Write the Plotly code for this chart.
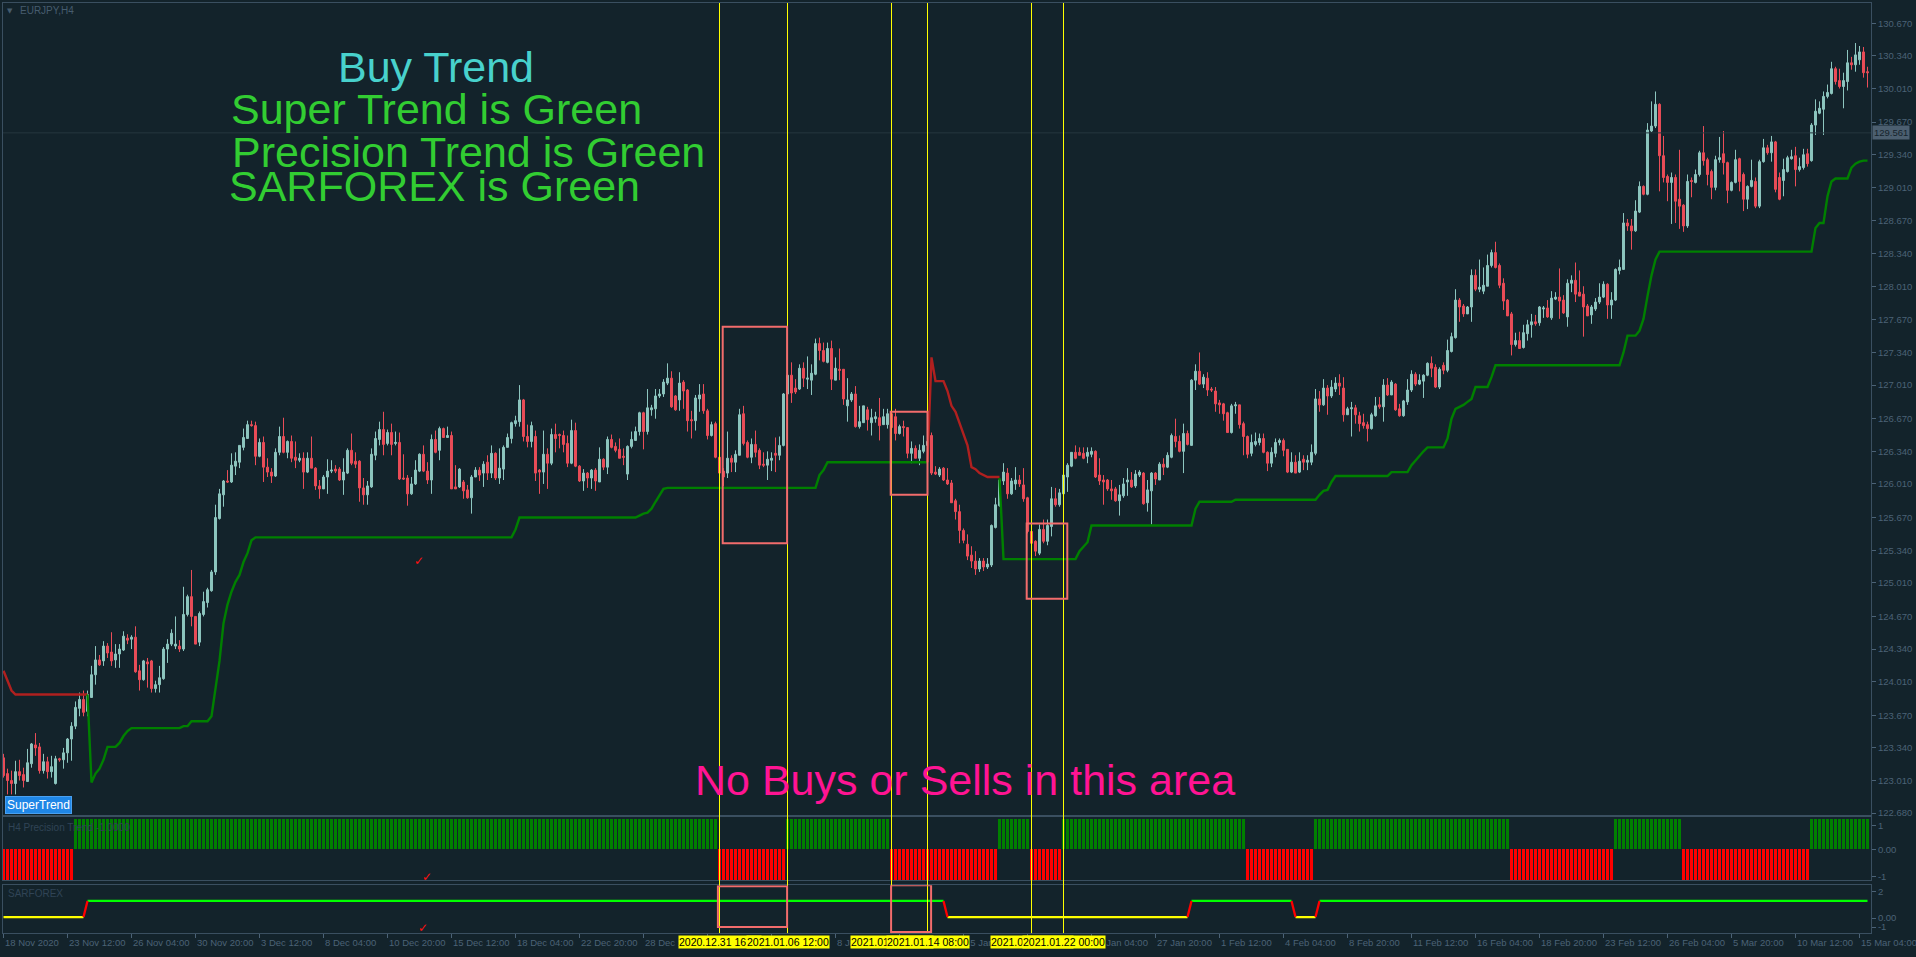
import plotly.graph_objects as go

# ---------------------------------------------------------------- data
opens = [
    123.24, 123.08, 123.01, 122.98, 123.10, 123.07, 123.00, 123.18, 123.37, 123.35,
    123.11, 123.20, 123.10, 122.98, 123.23, 123.22, 123.29, 123.43, 123.56, 123.74,
    123.83, 123.71, 123.85, 124.08, 124.23, 124.22, 124.37, 124.31, 124.23, 124.29,
    124.33, 124.45, 124.44, 124.46, 124.12, 124.03, 124.21, 124.22, 123.94, 123.98,
    124.04, 124.34, 124.39, 124.37, 124.37, 124.34, 124.69, 124.87, 124.67, 124.41,
    124.69, 124.81, 124.93, 125.12, 125.66, 125.90, 126.04, 126.03, 126.19, 126.23,
    126.38, 126.47, 126.61, 126.60, 126.29, 126.43, 126.18, 126.13, 126.09, 126.33,
    126.49, 126.33, 126.44, 126.28, 126.25, 126.27, 126.13, 126.27, 126.17, 125.99,
    125.96, 126.08, 126.14, 126.16, 126.16, 126.05, 126.12, 126.35, 126.24, 126.24,
    125.97, 125.90, 125.98, 126.30, 126.46, 126.56, 126.42, 126.53, 126.42, 126.43,
    126.07, 126.07, 125.91, 126.01, 126.14, 126.31, 126.14, 126.05, 126.46, 126.35,
    126.57, 126.48, 126.50, 125.98, 125.98, 126.03, 125.95, 125.87, 126.08, 126.15,
    126.12, 126.23, 126.12, 126.32, 126.07, 126.16, 126.38, 126.47, 126.62, 126.64,
    126.86, 126.49, 126.44, 126.49, 126.15, 126.13, 126.31, 126.22, 126.51, 126.51,
    126.50, 126.42, 126.22, 126.55, 126.19, 126.04, 126.12, 126.07, 126.15, 126.03,
    126.26, 126.18, 126.46, 126.39, 126.36, 126.29, 126.11, 126.39, 126.45, 126.54,
    126.73, 126.54, 126.76, 126.77, 126.90, 126.92, 127.03, 127.08, 126.90, 126.86,
    127.04, 126.96, 126.66, 126.65, 126.87, 126.92, 126.75, 126.50, 126.62, 126.28,
    126.14, 126.12, 126.27, 126.23, 126.30, 126.72, 126.43, 126.28, 126.41, 126.35,
    126.21, 126.20, 126.25, 126.32, 126.30, 126.40, 126.92, 127.11, 126.98, 126.97,
    127.18, 127.07, 127.06, 127.12, 127.43, 127.36, 127.24, 127.38, 127.06, 127.17,
    127.17, 126.80, 126.86, 126.92, 126.59, 126.63, 126.76, 126.63, 126.67, 126.68,
    126.61, 126.61, 126.72, 126.69, 126.52, 126.59, 126.58, 126.32, 126.37, 126.27,
    126.34, 126.40, 126.50, 126.13, 126.10, 126.17, 126.05, 126.02, 125.84, 125.73,
    125.54, 125.40, 125.29, 125.23, 125.15, 125.23, 125.17, 125.19, 125.57, 125.79,
    126.04, 126.12, 125.91, 126.01, 126.05, 126.00, 125.87, 125.53, 125.43, 125.31,
    125.55, 125.43, 125.58, 125.86, 125.80, 125.91, 126.08, 126.19, 126.33, 126.33,
    126.32, 126.29, 126.31, 126.34, 126.10, 126.05, 126.05, 125.96, 125.96, 125.84,
    125.89, 126.03, 126.05, 125.99, 126.10, 126.12, 125.82, 125.94, 126.12, 126.05,
    126.21, 126.18, 126.28, 126.49, 126.44, 126.34, 126.52, 126.40, 127.06, 127.15,
    127.02, 127.08, 126.97, 126.95, 126.83, 126.82, 126.73, 126.53, 126.80, 126.81,
    126.62, 126.49, 126.32, 126.41, 126.43, 126.47, 126.33, 126.22, 126.32, 126.43,
    126.45, 126.36, 126.13, 126.23, 126.13, 126.26, 126.23, 126.23, 126.32, 126.87,
    126.81, 126.98, 126.90, 126.97, 127.03, 126.98, 126.71, 126.77, 126.78, 126.70,
    126.63, 126.61, 126.57, 126.70, 126.81, 126.79, 127.01, 126.91, 127.02, 126.77,
    126.70, 126.84, 126.96, 127.12, 127.02, 127.05, 127.11, 127.23, 127.19, 126.99,
    127.21, 127.16, 127.35, 127.49, 127.87, 127.81, 127.73, 127.80, 128.12, 127.98,
    127.96, 128.01, 128.22, 128.35, 128.22, 128.04, 127.87, 127.73, 127.42, 127.46,
    127.39, 127.53, 127.62, 127.65, 127.64, 127.78, 127.79, 127.69, 127.88, 127.90,
    127.87, 127.70, 128.04, 128.07, 127.95, 127.93, 127.81, 127.72, 127.78, 127.85,
    127.90, 128.03, 127.82, 127.87, 128.17, 128.18, 128.65, 128.62, 128.57, 128.76,
    129.02, 128.94, 129.58, 129.63, 129.85, 129.33, 129.12, 129.06, 129.11, 128.89,
    128.83, 128.62, 129.08, 129.06, 129.14, 129.36, 129.29, 129.17, 129.01, 129.29,
    129.35, 129.26, 128.98, 129.06, 129.30, 129.14, 128.89, 129.02, 129.07, 128.82,
    129.27, 129.41, 129.36, 129.47, 129.11, 129.08, 129.17, 129.30, 129.33, 129.19,
    129.21, 129.35, 129.28, 129.64, 129.76, 129.80, 129.93, 129.96, 130.21, 130.09,
    130.03, 130.08, 130.27, 130.25, 130.30, 130.38, 130.18,
]
highs = [
    123.28, 123.13, 123.11, 123.21, 123.22, 123.14, 123.33, 123.39, 123.49, 123.39,
    123.28, 123.25, 123.26, 123.26, 123.24, 123.34, 123.44, 123.60, 123.81, 123.90,
    123.92, 123.92, 124.17, 124.37, 124.28, 124.42, 124.40, 124.51, 124.39, 124.39,
    124.52, 124.49, 124.48, 124.57, 124.18, 124.23, 124.25, 124.23, 124.02, 124.17,
    124.36, 124.44, 124.54, 124.67, 124.43, 124.97, 124.89, 125.14, 124.67, 124.72,
    124.92, 124.96, 125.14, 125.80, 125.96, 126.05, 126.15, 126.32, 126.33, 126.40,
    126.57, 126.65, 126.65, 126.64, 126.47, 126.49, 126.27, 126.17, 126.37, 126.59,
    126.68, 126.45, 126.50, 126.44, 126.32, 126.33, 126.33, 126.49, 126.18, 126.05,
    126.10, 126.26, 126.25, 126.20, 126.18, 126.27, 126.37, 126.52, 126.33, 126.25,
    126.07, 126.04, 126.37, 126.54, 126.64, 126.74, 126.56, 126.62, 126.54, 126.53,
    126.31, 126.10, 126.08, 126.25, 126.32, 126.40, 126.23, 126.51, 126.55, 126.59,
    126.58, 126.59, 126.54, 126.20, 126.17, 126.05, 126.00, 126.10, 126.18, 126.18,
    126.24, 126.30, 126.40, 126.33, 126.37, 126.40, 126.52, 126.64, 126.70, 127.01,
    126.87, 126.61, 126.64, 126.55, 126.16, 126.55, 126.37, 126.57, 126.62, 126.52,
    126.55, 126.50, 126.66, 126.63, 126.20, 126.16, 126.13, 126.16, 126.17, 126.38,
    126.27, 126.49, 126.51, 126.43, 126.47, 126.37, 126.40, 126.54, 126.59, 126.74,
    126.74, 126.97, 126.81, 126.97, 126.97, 127.07, 127.23, 127.15, 126.91, 127.14,
    127.06, 126.97, 126.75, 126.91, 127.02, 127.02, 126.77, 126.64, 126.64, 126.30,
    126.17, 126.54, 126.30, 126.35, 126.77, 126.80, 126.45, 126.47, 126.55, 126.37,
    126.33, 126.34, 126.33, 126.48, 126.49, 126.93, 127.20, 127.24, 127.07, 127.22,
    127.24, 127.30, 127.22, 127.48, 127.49, 127.44, 127.44, 127.46, 127.29, 127.38,
    127.17, 127.08, 126.94, 127.00, 126.80, 126.80, 126.79, 126.77, 126.74, 126.88,
    126.77, 126.77, 126.75, 126.77, 126.61, 126.65, 126.58, 126.44, 126.40, 126.41,
    126.50, 126.52, 126.53, 126.19, 126.18, 126.18, 126.17, 126.05, 125.86, 125.80,
    125.56, 125.50, 125.38, 125.33, 125.26, 125.26, 125.26, 125.60, 125.87, 126.07,
    126.22, 126.17, 126.07, 126.18, 126.10, 126.17, 125.88, 125.65, 125.44, 125.60,
    125.65, 125.65, 125.98, 125.97, 125.96, 126.14, 126.22, 126.33, 126.40, 126.38,
    126.38, 126.38, 126.38, 126.35, 126.27, 126.10, 126.06, 126.05, 125.98, 126.00,
    126.07, 126.17, 126.13, 126.15, 126.15, 126.13, 126.05, 126.13, 126.13, 126.23,
    126.27, 126.33, 126.52, 126.67, 126.50, 126.62, 126.55, 127.07, 127.22, 127.34,
    127.12, 127.14, 126.99, 126.99, 126.86, 126.83, 126.74, 126.82, 126.84, 126.81,
    126.64, 126.50, 126.51, 126.53, 126.52, 126.52, 126.34, 126.38, 126.47, 126.47,
    126.47, 126.36, 126.33, 126.30, 126.33, 126.30, 126.30, 126.41, 126.97, 126.95,
    127.07, 127.01, 127.06, 127.09, 127.12, 127.09, 126.79, 126.84, 126.81, 126.74,
    126.72, 126.64, 126.73, 126.89, 126.89, 127.07, 127.08, 127.06, 127.03, 126.82,
    126.86, 127.07, 127.16, 127.14, 127.12, 127.12, 127.24, 127.30, 127.22, 127.19,
    127.24, 127.47, 127.54, 127.98, 127.89, 127.83, 127.81, 128.18, 128.18, 128.28,
    128.20, 128.33, 128.38, 128.46, 128.24, 128.09, 127.88, 127.75, 127.54, 127.55,
    127.62, 127.67, 127.73, 127.72, 127.81, 127.81, 127.87, 127.96, 127.95, 128.19,
    127.92, 128.08, 128.12, 128.25, 128.17, 128.01, 127.83, 127.82, 127.89, 128.04,
    128.06, 128.04, 127.95, 128.19, 128.28, 128.75, 128.69, 128.69, 128.88, 129.07,
    129.03, 129.66, 129.88, 129.98, 129.86, 129.53, 129.14, 129.16, 129.14, 129.39,
    128.84, 129.14, 129.11, 129.19, 129.38, 129.63, 129.31, 129.19, 129.33, 129.52,
    129.58, 129.27, 129.07, 129.39, 129.31, 129.16, 129.03, 129.29, 129.11, 129.29,
    129.50, 129.44, 129.53, 129.48, 129.16, 129.30, 129.33, 129.39, 129.42, 129.31,
    129.40, 129.40, 129.66, 129.90, 129.88, 129.98, 130.05, 130.28, 130.23, 130.21,
    130.17, 130.40, 130.33, 130.47, 130.44, 130.43, 130.23,
]
lows = [
    123.04, 122.87, 122.87, 122.87, 123.01, 122.94, 123.00, 123.14, 123.26, 123.08,
    123.08, 123.03, 123.04, 122.97, 123.20, 123.13, 123.19, 123.21, 123.53, 123.66,
    123.66, 123.66, 123.85, 123.98, 124.17, 124.17, 124.25, 124.17, 124.15, 124.15,
    124.32, 124.39, 124.34, 124.10, 123.92, 124.02, 123.95, 123.90, 123.90, 123.90,
    124.03, 124.20, 124.37, 124.34, 124.31, 124.32, 124.67, 124.57, 124.39, 124.37,
    124.67, 124.76, 124.92, 125.09, 125.65, 125.78, 126.02, 126.02, 126.10, 126.17,
    126.35, 126.47, 126.59, 126.20, 126.28, 126.03, 126.08, 126.02, 126.08, 126.30,
    126.32, 126.27, 126.23, 126.17, 126.23, 125.96, 126.12, 126.17, 125.95, 125.86,
    125.96, 125.91, 126.12, 126.12, 126.04, 125.90, 126.11, 126.20, 126.17, 125.83,
    125.80, 125.80, 125.97, 126.25, 126.40, 126.30, 126.40, 126.30, 126.40, 126.05,
    126.05, 125.79, 125.90, 126.00, 126.13, 126.13, 126.01, 125.91, 126.32, 126.25,
    126.48, 126.48, 125.96, 125.96, 125.97, 125.86, 125.86, 125.71, 126.08, 126.04,
    125.98, 126.05, 126.07, 126.05, 126.01, 126.05, 126.38, 126.42, 126.59, 126.59,
    126.44, 126.38, 126.38, 126.04, 125.91, 126.01, 125.96, 126.20, 126.33, 126.37,
    126.33, 126.18, 126.21, 126.18, 126.03, 125.94, 125.97, 125.96, 125.94, 126.03,
    126.15, 126.11, 126.37, 126.33, 126.27, 126.20, 126.05, 126.37, 126.45, 126.50,
    126.36, 126.51, 126.70, 126.67, 126.88, 126.89, 127.01, 126.78, 126.75, 126.75,
    126.77, 126.54, 126.47, 126.55, 126.74, 126.72, 126.46, 126.49, 126.27, 126.08,
    125.99, 126.07, 126.13, 126.13, 126.30, 126.40, 126.27, 126.22, 126.28, 126.16,
    126.18, 126.05, 126.14, 126.13, 126.25, 126.39, 126.88, 126.83, 126.92, 126.96,
    126.99, 126.97, 126.91, 127.11, 127.26, 127.24, 127.23, 126.96, 127.06, 127.06,
    126.81, 126.64, 126.84, 126.58, 126.57, 126.63, 126.55, 126.50, 126.63, 126.45,
    126.61, 126.57, 126.55, 126.45, 126.51, 126.49, 126.27, 126.22, 126.27, 126.20,
    126.32, 126.36, 126.10, 126.10, 126.08, 126.04, 126.00, 125.82, 125.65, 125.41,
    125.41, 125.24, 125.16, 125.09, 125.12, 125.13, 125.15, 125.17, 125.56, 125.78,
    126.00, 125.86, 125.90, 125.95, 125.98, 125.83, 125.51, 125.38, 125.28, 125.29,
    125.41, 125.39, 125.48, 125.78, 125.78, 125.88, 125.93, 126.18, 126.26, 126.30,
    126.26, 126.22, 126.28, 126.07, 126.00, 125.80, 125.94, 125.85, 125.83, 125.69,
    125.87, 125.89, 125.97, 125.97, 126.08, 125.80, 125.73, 125.60, 126.00, 126.05,
    126.10, 126.17, 126.27, 126.38, 126.33, 126.12, 126.40, 126.40, 126.96, 127.01,
    126.98, 126.90, 126.94, 126.74, 126.72, 126.65, 126.53, 126.52, 126.72, 126.57,
    126.30, 126.27, 126.29, 126.39, 126.40, 126.32, 126.14, 126.18, 126.28, 126.40,
    126.29, 126.12, 126.12, 126.12, 126.12, 126.15, 126.15, 126.20, 126.30, 126.74,
    126.80, 126.71, 126.88, 126.94, 126.91, 126.64, 126.71, 126.49, 126.62, 126.54,
    126.57, 126.44, 126.56, 126.69, 126.77, 126.64, 126.90, 126.91, 126.75, 126.69,
    126.69, 126.81, 126.94, 127.00, 127.01, 126.88, 127.10, 127.09, 126.98, 126.97,
    127.12, 127.14, 127.34, 127.48, 127.65, 127.70, 127.73, 127.65, 127.96, 127.95,
    127.93, 128.01, 128.20, 128.19, 127.99, 127.77, 127.71, 127.31, 127.40, 127.38,
    127.38, 127.46, 127.49, 127.61, 127.61, 127.69, 127.69, 127.67, 127.87, 127.68,
    127.73, 127.60, 127.95, 127.85, 127.91, 127.50, 127.71, 127.63, 127.76, 127.83,
    127.89, 127.68, 127.68, 127.86, 128.13, 128.18, 128.57, 128.38, 128.56, 128.75,
    128.93, 128.93, 129.57, 129.61, 128.97, 129.06, 128.87, 128.64, 128.65, 128.59,
    128.56, 128.60, 128.91, 129.05, 129.12, 129.23, 129.03, 128.89, 128.98, 129.26,
    129.14, 128.85, 128.97, 129.05, 128.97, 128.77, 128.79, 129.01, 128.80, 128.80,
    129.26, 129.34, 129.27, 128.96, 128.88, 128.92, 129.16, 129.29, 129.02, 129.17,
    129.19, 129.22, 129.27, 129.54, 129.75, 129.54, 129.91, 129.95, 130.05, 130.01,
    129.81, 129.99, 130.20, 130.18, 130.25, 130.12, 130.02,
]
closes = [
    123.06, 123.01, 122.98, 123.10, 123.06, 123.01, 123.19, 123.38, 123.34, 123.11,
    123.20, 123.10, 123.15, 123.23, 123.22, 123.29, 123.43, 123.56, 123.75, 123.83,
    123.70, 123.88, 124.08, 124.23, 124.18, 124.37, 124.30, 124.22, 124.29, 124.34,
    124.47, 124.43, 124.46, 124.11, 124.03, 124.22, 124.19, 123.94, 123.98, 124.05,
    124.34, 124.39, 124.50, 124.39, 124.34, 124.69, 124.87, 124.67, 124.39, 124.70,
    124.82, 124.94, 125.12, 125.67, 125.91, 126.04, 126.03, 126.20, 126.24, 126.40,
    126.48, 126.61, 126.60, 126.29, 126.43, 126.18, 126.13, 126.09, 126.33, 126.49,
    126.33, 126.44, 126.27, 126.25, 126.27, 126.13, 126.27, 126.17, 125.99, 125.96,
    126.08, 126.14, 126.15, 126.14, 126.05, 126.13, 126.35, 126.22, 126.21, 125.97,
    125.90, 125.99, 126.31, 126.47, 126.56, 126.41, 126.53, 126.41, 126.43, 126.06,
    126.06, 125.91, 126.01, 126.15, 126.31, 126.14, 126.05, 126.46, 126.33, 126.57,
    126.48, 126.50, 125.96, 125.96, 126.16, 125.94, 125.87, 126.08, 126.15, 126.10,
    126.21, 126.12, 126.32, 126.07, 126.17, 126.38, 126.48, 126.63, 126.65, 126.86,
    126.49, 126.44, 126.60, 126.12, 126.13, 126.31, 126.22, 126.51, 126.47, 126.50,
    126.41, 126.22, 126.55, 126.19, 126.04, 126.12, 126.07, 126.15, 126.04, 126.26,
    126.18, 126.46, 126.38, 126.35, 126.27, 126.28, 126.39, 126.46, 126.54, 126.73,
    126.54, 126.78, 126.78, 126.90, 126.92, 127.04, 127.08, 126.79, 126.76, 127.03,
    126.95, 126.65, 126.65, 126.88, 126.91, 126.75, 126.50, 126.61, 126.28, 126.12,
    126.08, 126.27, 126.23, 126.31, 126.71, 126.42, 126.28, 126.41, 126.33, 126.20,
    126.20, 126.26, 126.27, 126.30, 126.40, 126.92, 127.11, 126.93, 126.94, 127.18,
    127.08, 127.08, 127.13, 127.43, 127.36, 127.25, 127.38, 127.07, 127.18, 127.16,
    126.87, 126.86, 126.92, 126.59, 126.64, 126.80, 126.66, 126.68, 126.69, 126.60,
    126.69, 126.72, 126.58, 126.52, 126.59, 126.58, 126.32, 126.37, 126.27, 126.35,
    126.40, 126.44, 126.12, 126.11, 126.16, 126.05, 126.01, 125.82, 125.73, 125.54,
    125.44, 125.28, 125.23, 125.15, 125.23, 125.17, 125.20, 125.59, 125.80, 126.05,
    126.13, 125.91, 126.04, 126.05, 126.01, 125.86, 125.53, 125.41, 125.33, 125.55,
    125.43, 125.59, 125.86, 125.80, 125.92, 126.10, 126.20, 126.33, 126.27, 126.30,
    126.27, 126.33, 126.34, 126.08, 126.04, 126.03, 125.96, 125.94, 125.84, 125.90,
    126.01, 126.05, 125.98, 126.11, 126.13, 125.81, 125.95, 126.12, 126.06, 126.21,
    126.18, 126.30, 126.50, 126.44, 126.34, 126.52, 126.41, 127.06, 127.15, 127.02,
    127.09, 126.96, 126.96, 126.82, 126.81, 126.72, 126.53, 126.80, 126.81, 126.61,
    126.49, 126.31, 126.43, 126.44, 126.47, 126.33, 126.22, 126.33, 126.43, 126.45,
    126.35, 126.13, 126.23, 126.12, 126.24, 126.23, 126.25, 126.33, 126.87, 126.81,
    126.98, 126.90, 126.99, 127.03, 127.00, 126.71, 126.77, 126.78, 126.71, 126.62,
    126.60, 126.57, 126.71, 126.80, 126.79, 127.01, 126.91, 127.04, 126.76, 126.70,
    126.85, 126.96, 127.12, 127.02, 127.06, 127.11, 127.23, 127.18, 126.99, 127.17,
    127.16, 127.36, 127.50, 127.87, 127.80, 127.73, 127.80, 128.12, 127.98, 128.00,
    128.02, 128.22, 128.35, 128.20, 128.02, 127.86, 127.71, 127.42, 127.46, 127.38,
    127.54, 127.62, 127.65, 127.63, 127.80, 127.79, 127.70, 127.89, 127.90, 127.86,
    127.74, 128.04, 128.07, 127.93, 127.91, 127.80, 127.71, 127.80, 127.85, 127.90,
    128.03, 127.82, 127.87, 128.18, 128.20, 128.65, 128.62, 128.57, 128.77, 129.02,
    128.94, 129.59, 129.63, 129.85, 129.33, 129.11, 129.06, 129.11, 128.87, 128.82,
    128.62, 129.07, 129.07, 129.14, 129.36, 129.28, 129.14, 129.01, 129.29, 129.31,
    129.26, 128.98, 129.06, 129.29, 129.07, 128.89, 129.02, 129.08, 128.82, 129.27,
    129.41, 129.36, 129.47, 128.99, 128.89, 129.19, 129.31, 129.32, 129.19, 129.22,
    129.34, 129.25, 129.64, 129.78, 129.81, 129.93, 129.97, 130.21, 130.08, 130.03,
    130.09, 130.27, 130.25, 130.35, 130.38, 130.17, 130.17,
]

price_tick_labels = [
    "130.670", "130.340", "130.010", "129.670", "129.340", "129.010", "128.670",
    "128.340", "128.010", "127.670", "127.340", "127.010", "126.670", "126.340",
    "126.010", "125.670", "125.340", "125.010", "124.670", "124.340", "124.010",
    "123.670", "123.340", "123.010", "122.680",
]
date_tick_labels = [
    "18 Nov 2020", "23 Nov 12:00", "26 Nov 04:00", "30 Nov 20:00", "3 Dec 12:00",
    "8 Dec 04:00", "10 Dec 20:00", "15 Dec 12:00", "18 Dec 04:00", "22 Dec 20:00",
    "28 Dec 12:00", "31 Dec 04:00", "5 Jan 20:00", "8 Jan 12:00", "13 Jan 04:00",
    "15 Jan 20:00", "20 Jan 12:00", "25 Jan 04:00", "27 Jan 20:00", "1 Feb 12:00",
    "4 Feb 04:00", "8 Feb 20:00", "11 Feb 12:00", "16 Feb 04:00", "18 Feb 20:00",
    "23 Feb 12:00", "26 Feb 04:00", "5 Mar 20:00", "10 Mar 12:00", "15 Mar 04:00",
]
bars_per_date_label = 16

# SuperTrend: (first bar, last bar, [(bar where value changes, value), ...])
st_red_1 = (0, 21, [(0, 124.12), (1, 124.02), (2, 123.92), (3, 123.88)])
st_green_1 = (21, 231, [
    (21, 123.88), (22, 122.99), (23, 123.08), (24, 123.13), (25, 123.22), (26, 123.35),
    (29, 123.39), (30, 123.46), (31, 123.51), (32, 123.54), (45, 123.56), (47, 123.61),
    (52, 123.66), (53, 123.92), (54, 124.22), (55, 124.60), (56, 124.79), (57, 124.92),
    (58, 125.02), (59, 125.09), (60, 125.22), (61, 125.31), (62, 125.44), (63, 125.47),
    (128, 125.55), (129, 125.67), (159, 125.69), (160, 125.71), (161, 125.72),
    (162, 125.76), (163, 125.83), (164, 125.90), (165, 125.96), (166, 125.97),
    (204, 126.10), (205, 126.15), (206, 126.23)])
st_red_2 = (231, 249, [
    (231, 126.23), (232, 127.29), (233, 127.05), (236, 126.95), (237, 126.80),
    (238, 126.74), (239, 126.62), (240, 126.52), (241, 126.40), (242, 126.18),
    (243, 126.16), (244, 126.12), (245, 126.10), (246, 126.08)])
st_green_2 = (249, 466, [
    (249, 126.07), (250, 125.25), (269, 125.33), (270, 125.38), (271, 125.42),
    (272, 125.59), (298, 125.76), (299, 125.83), (308, 125.85), (329, 125.90),
    (330, 125.94), (331, 125.95), (332, 126.03), (333, 126.09), (347, 126.13),
    (352, 126.20), (353, 126.25), (354, 126.30), (355, 126.34), (356, 126.38),
    (361, 126.47), (362, 126.67), (363, 126.77), (364, 126.79), (365, 126.81),
    (366, 126.84), (367, 126.87), (368, 126.99), (372, 127.09), (373, 127.21),
    (405, 127.34), (406, 127.51), (409, 127.56), (410, 127.68), (411, 127.91),
    (412, 128.12), (413, 128.28), (414, 128.36), (453, 128.60), (454, 128.65),
    (456, 128.92), (457, 129.07), (458, 129.10), (462, 129.21), (463, 129.25),
    (464, 129.27), (465, 129.28)])

# Precision Trend histogram: (first bar, last bar, value)
precision_runs = [
    (0, 17, -1), (18, 178, 1), (179, 195, -1), (196, 221, 1), (222, 248, -1),
    (249, 256, 1), (257, 264, -1), (265, 310, 1), (311, 327, -1), (328, 376, 1),
    (377, 402, -1), (403, 419, 1), (420, 451, -1), (452, 466, 1),
]
# SARFOREX: (first bar, last bar, colour, level)
sarforex_levels = {"up": 1.15, "down": 0.07}
sarforex_runs = [
    (0, 20, "yellow", "down"), (21, 21, "red", "up"), (22, 235, "green", "up"),
    (236, 236, "red", "down"), (237, 296, "yellow", "down"), (297, 297, "red", "up"),
    (298, 322, "green", "up"), (323, 323, "red", "down"), (324, 328, "yellow", "down"),
    (329, 329, "red", "up"), (330, 466, "green", "up"),
]

# vertical lines (bar index) and their time labels
vline_bars = [179, 196, 222, 231, 257, 265]
vline_labels = ["2020.12.31 16:00", "2021.01.06 12:00", "2021.01.12 20:00",
                "2021.01.14 08:00", "2021.01.20 16:00", "2021.01.22 00:00"]
# rectangles on the price chart: (bar0, bar1, price0, price1)
price_boxes = [(179.8, 195.9, 125.41, 127.60), (221.8, 231.0, 125.90, 126.74),
               (255.8, 265.95, 124.85, 125.61)]
# rectangles on the SARFOREX window: (bar0, bar1, value0, value1)
sar_boxes = [(178.6, 195.9, -0.6, 2.13), (221.9, 231.9, -0.93, 2.2)]
hline_price = 129.561

# ---------------------------------------------------------------- layout helpers
W, H = 1916, 957
BG = "#13232b"
FRAME = "#3a4f60"
TXT = "#4b6276"
BULL = "#8dc6bf"
BEAR = "#ea4d58"
FONT = "Liberation Sans"


def fx(px):
    return px / W


def fy(py):
    return 1 - py / H


PLOT_L, PLOT_R = 3, 1871
MAIN_T, MAIN_B = 3, 818
PREC_T, PREC_B = 820, 883
SAR_T, SAR_B = 888, 936

n_bars = len(closes)
bars = list(range(n_bars))
x_range = [-0.125, n_bars - 0.125]

fig = go.Figure()

# candles
fig.add_trace(go.Candlestick(
    x=bars, open=opens, high=highs, low=lows, close=closes,
    increasing=dict(line=dict(color=BULL, width=1), fillcolor=BULL),
    decreasing=dict(line=dict(color=BEAR, width=1), fillcolor=BEAR),
    whiskerwidth=0, xaxis="x", yaxis="y", hoverinfo="skip", showlegend=False))


def expand_steps(seg):
    first, last, steps = seg
    xs, ys = [], []
    j = 0
    cur = steps[0][1]
    for b in range(first, last + 1):
        while j < len(steps) and steps[j][0] <= b:
            cur = steps[j][1]
            j += 1
        xs.append(b)
        ys.append(cur)
    return xs, ys


for seg, col in [(st_red_1, "#b0201f"), (st_green_1, "#008000"),
                 (st_red_2, "#b0201f"), (st_green_2, "#008000")]:
    xs, ys = expand_steps(seg)
    fig.add_trace(go.Scatter(x=xs, y=ys, mode="lines", line=dict(color=col, width=2.4),
                             xaxis="x", yaxis="y", hoverinfo="skip", showlegend=False))

# precision trend histogram
p_x, p_y, p_c = [], [], []
for first, last, val in precision_runs:
    for b in range(first, last + 1):
        p_x.append(b)
        p_y.append(val)
        p_c.append("#008000" if val > 0 else "#ff0000")
fig.add_trace(go.Bar(x=p_x, y=p_y, marker=dict(color=p_c, line=dict(width=0)), width=0.6,
                     xaxis="x2", yaxis="y2", hoverinfo="skip", showlegend=False))

# SARFOREX line
sar_val = [0.0] * n_bars
for first, last, col, lvl in sarforex_runs:
    for b in range(first, last + 1):
        sar_val[b] = sarforex_levels[lvl]
colour_map = {"yellow": "#ffff00", "green": "#00ff00", "red": "#ff0000"}
seg_pts = {"yellow": ([], []), "green": ([], []), "red": ([], [])}
for first, last, col, lvl in sarforex_runs:
    start = first - 1 if first > 0 else first
    xs, ys = seg_pts[col]
    for b in range(start, last + 1):
        xs.append(b)
        ys.append(sar_val[b])
    xs.append(None)
    ys.append(None)
for col in ["yellow", "green", "red"]:
    xs, ys = seg_pts[col]
    fig.add_trace(go.Scatter(x=xs, y=ys, mode="lines", connectgaps=False,
                             line=dict(color=colour_map[col], width=2.3),
                             xaxis="x3", yaxis="y3", hoverinfo="skip", showlegend=False))

axis_common = dict(showgrid=False, zeroline=False, showline=True, mirror=True,
                   linecolor=FRAME, linewidth=1, fixedrange=True)
tick_font = dict(family=FONT, size=9.5, color=TXT)

fig.update_layout(
    width=W, height=H, autosize=False,
    margin=dict(l=0, r=0, t=0, b=0),
    paper_bgcolor=BG, plot_bgcolor=BG,
    hovermode=False, showlegend=False, bargap=0,
    xaxis=dict(domain=[fx(PLOT_L), fx(PLOT_R)], range=x_range, anchor="y",
               showticklabels=False, ticks="", rangeslider=dict(visible=False), **axis_common),
    yaxis=dict(domain=[fy(MAIN_B), fy(MAIN_T)], range=[122.657, 130.875], side="right",
               anchor="x", tickvals=[float(v) for v in price_tick_labels],
               ticktext=price_tick_labels, ticks="outside", ticklen=4, tickcolor=TXT,
               tickfont=tick_font, **axis_common),
    xaxis2=dict(domain=[fx(PLOT_L), fx(PLOT_R)], range=x_range, anchor="y2",
                showticklabels=False, ticks="", **axis_common),
    yaxis2=dict(domain=[fy(PREC_B), fy(PREC_T)], range=[-1.0, 1.05], side="right",
                anchor="x2", tickvals=[0.79, 0, -0.87], ticktext=["1", "0.00", "-1"],
                ticks="outside", ticklen=4, tickcolor=TXT, tickfont=tick_font, **axis_common),
    xaxis3=dict(domain=[fx(PLOT_L), fx(PLOT_R)], range=x_range, anchor="y3",
                showticklabels=False, ticks="outside", ticklen=4, tickcolor=TXT,
                tickvals=[k * bars_per_date_label for k in range(len(date_tick_labels))],
                **axis_common),
    yaxis3=dict(domain=[fy(SAR_B), fy(SAR_T)], range=[-1.0, 2.2], side="right",
                anchor="x3", tickvals=[1.8, 0, -0.6], ticktext=["2", "0.00", "-1"],
                ticks="outside", ticklen=4, tickcolor=TXT, tickfont=tick_font, **axis_common),
)

shapes = []
# horizontal line object
shapes.append(dict(type="line", xref="paper", yref="y", x0=fx(PLOT_L), x1=fx(PLOT_R),
                   y0=hline_price, y1=hline_price, line=dict(color="#26373f", width=1)))
# vertical lines
for b in vline_bars:
    shapes.append(dict(type="line", xref="x", yref="paper", x0=b, x1=b,
                       y0=fy(SAR_B), y1=fy(MAIN_T), line=dict(color="#ffff00", width=1)))
for b0, b1, p0, p1 in price_boxes:
    shapes.append(dict(type="rect", xref="x", yref="y", x0=b0, x1=b1, y0=p0, y1=p1,
                       line=dict(color="#f26c6c", width=2)))
for b0, b1, v0, v1 in sar_boxes:
    shapes.append(dict(type="rect", xref="x3", yref="y3", x0=b0, x1=b1, y0=v0, y1=v1,
                       line=dict(color="#f26c6c", width=2)))
fig.update_layout(shapes=shapes)

ann = []
# date labels
for k, lab in enumerate(date_tick_labels):
    ann.append(dict(xref="x3", yref="paper", x=k * bars_per_date_label, y=fy(945),
                    xanchor="left", yanchor="middle", text=lab, showarrow=False,
                    font=dict(family=FONT, size=9.5, color=TXT), xshift=-1))
for b, lab in zip(vline_bars, vline_labels):
    ann.append(dict(xref="x3", yref="paper", x=b, y=fy(945), xanchor="center",
                    yanchor="middle", text=lab, showarrow=False, bgcolor="#ffff00",
                    borderpad=0, font=dict(family=FONT, size=10.5, color="#000000")))
# price label for the horizontal line
ann.append(dict(xref="paper", yref="y", x=fx(1872), y=hline_price, xanchor="left",
                yanchor="middle", text="129.561", showarrow=False, bgcolor="#4c5f70",
                borderpad=1, font=dict(family=FONT, size=9.5, color="#15232c")))
# big texts
big = [("Buy Trend", 336, 67, "#48d1cc"),
       ("Super Trend is Green", 229, 109, "#32cd32"),
       ("Precision Trend is Green", 230, 152, "#32cd32"),
       ("SARFOREX is Green", 227, 187, "#32cd32"),
       ("No Buys or Sells in this area", 693, 782, "#ff1493")]
for txt, x0, yc, col in big:
    ann.append(dict(xref="paper", yref="paper", x=fx(x0), y=fy(yc), xanchor="left",
                    yanchor="middle", text=txt, showarrow=False,
                    font=dict(family=FONT, size=43, color=col)))
# window captions
ann.append(dict(xref="paper", yref="paper", x=fx(18), y=fy(11), xanchor="left",
                yanchor="middle", text="EURJPY,H4", showarrow=False,
                font=dict(family=FONT, size=10, color="#465c6e")))
ann.append(dict(xref="paper", yref="paper", x=fx(5), y=fy(11), xanchor="left",
                yanchor="middle", text="▼", showarrow=False,
                font=dict(family="DejaVu Sans", size=7, color="#465c6e")))
ann.append(dict(xref="paper", yref="paper", x=fx(6), y=fy(830), xanchor="left",
                yanchor="middle", text="H4 Precision Trend -1.0000", showarrow=False,
                font=dict(family=FONT, size=10, color="#304456")))
ann.append(dict(xref="paper", yref="paper", x=fx(6), y=fy(896), xanchor="left",
                yanchor="middle", text="SARFOREX", showarrow=False,
                font=dict(family=FONT, size=10, color="#304456")))
# SuperTrend button
ann.append(dict(xref="paper", yref="paper", x=fx(5), y=fy(807.5), xanchor="left",
                yanchor="middle", text="SuperTrend", showarrow=False,
                bgcolor="#1f86e6", bordercolor="#4aa0f0", borderwidth=1, borderpad=1,
                font=dict(family=FONT, size=12, color="#ffffff")))
# red check marks
for cx, cy in [(419, 563), (427, 880), (423, 931)]:
    ann.append(dict(xref="paper", yref="paper", x=fx(cx), y=fy(cy), xanchor="center",
                    yanchor="middle", text="✓", showarrow=False,
                    font=dict(family="DejaVu Sans", size=12, color="#ff1010")))
fig.update_layout(annotations=ann)

fig.write_html("out.html", config={"displayModeBar": False},
               post_script="document.body.style.margin='0';document.body.style.overflow='hidden';")
